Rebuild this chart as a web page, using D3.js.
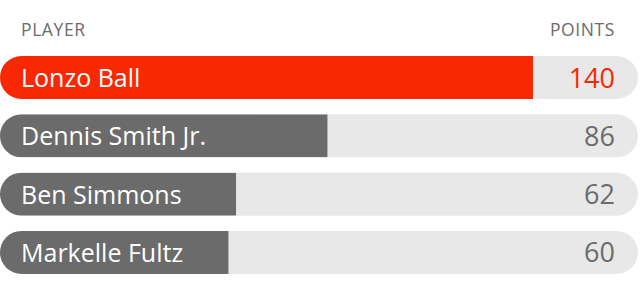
<!DOCTYPE html>
<html>
<head>
<meta charset="utf-8">
<script src="https://cdn.jsdelivr.net/npm/d3@7"></script>
<style>
  html, body { margin: 0; padding: 0; background: #fff; }
  text { font-family: "Open Sans", Lato, sans-serif; font-weight: 500; }
</style>
</head>
<body>
<div id="chart"></div>
<script>
// data
const players = ["Lonzo Ball", "Dennis Smith Jr.", "Ben Simmons", "Markelle Fultz"];
const points = [140, 86, 62, 60];
const highlight = ["Lonzo Ball"];
const headers = ["PLAYER", "POINTS"];

const width = 640, height = 296;
const barH = 43, radius = 21.5;

const rows = players.map((name, i) => ({name, value: points[i]}));

const svg = d3.select("#chart").append("svg")
    .attr("width", width)
    .attr("height", height);

const x = d3.scaleLinear()
    .domain([0, d3.max(points)])
    .range([0, 533]);

const y = d3.scaleBand()
    .domain(players)
    .range([56, 274])
    .paddingInner(0.262)
    .paddingOuter(0);

// column headers
svg.append("text")
    .attr("x", 21).attr("y", 36)
    .attr("font-size", 17.5)
    .attr("letter-spacing", 0.6)
    .attr("fill", "#6b6b6b")
    .text(headers[0]);
svg.append("text")
    .attr("x", 615).attr("y", 36)
    .attr("text-anchor", "end")
    .attr("font-size", 17.5)
    .attr("letter-spacing", 0.6)
    .attr("fill", "#6b6b6b")
    .text(headers[1]);

const defs = svg.append("defs");

const row = svg.selectAll("g.row")
  .data(rows)
  .join("g")
    .attr("class", "row")
    .attr("transform", d => `translate(0,${y(d.name)})`);

// one clip per row so the left end is rounded
row.each(function(d, i) {
  defs.append("clipPath").attr("id", `clip${i}`)
    .append("rect")
      .attr("x", 0).attr("y", 0)
      .attr("width", 638).attr("height", barH)
      .attr("rx", radius).attr("ry", radius);
});

const isHi = d => highlight.includes(d.name);

// background track
row.append("rect")
    .attr("x", 0).attr("y", 0)
    .attr("width", 638).attr("height", barH)
    .attr("rx", radius).attr("ry", radius)
    .attr("fill", "#e8e8e8");

// value bar
row.append("rect")
    .attr("clip-path", (d, i) => `url(#clip${i})`)
    .attr("x", 0).attr("y", 0)
    .attr("width", d => x(d.value))
    .attr("height", barH)
    .attr("fill", d => isHi(d) ? "#f72802" : "#6b6b6b");

row.append("text")
    .attr("x", 21)
    .attr("y", barH / 2 + 9.5)
    .attr("font-size", 25)
    .attr("fill", "#fff")
    .text(d => d.name);

row.append("text")
    .attr("x", 615)
    .attr("y", barH / 2 + 10)
    .attr("text-anchor", "end")
    .attr("font-size", 27)
    .attr("fill", d => isHi(d) ? "#f72802" : "#6b6b6b")
    .text(d => d.value);
</script>
</body>
</html>
